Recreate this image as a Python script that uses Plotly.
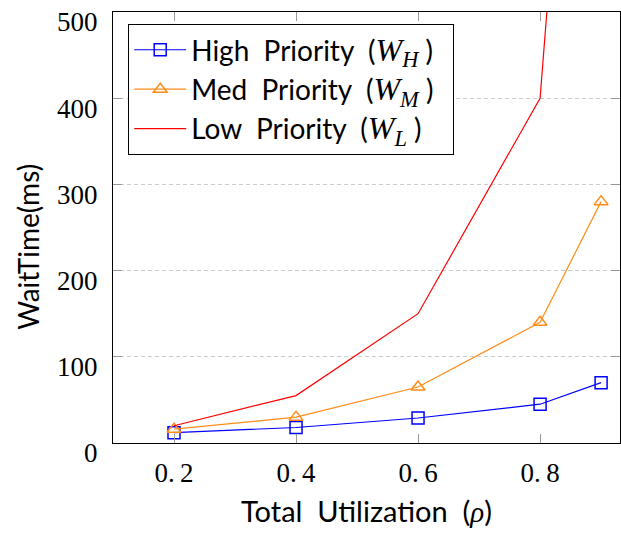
import plotly.graph_objects as go

x_vals = [0.2, 0.4, 0.6, 0.8, 0.9]
high = [12, 18, 29, 45, 70]
med = [16, 30, 65, 140, 280]
low = [20, 55, 150, 400, 1300]

x_ticks = [0.2, 0.4, 0.6, 0.8]
x_ticktext = ["0.\u20092", "0.\u20094", "0.\u20096", "0.\u20098"]
y_ticks = [0, 100, 200, 300, 400, 500]

nb = "\u00a0"
serif = "Liberation Serif"
sans = "Lato"


def math(s, size=None):
    st = f"font-family:{serif}" + (f";font-size:{size}px" if size else "")
    return f"<span style='{st}'><i>{s}</i></span>"


names = [f"High{nb} Priority{nb} ({math('W<sub>H</sub>', 32)} ){nb}{nb}",
         f"Med{nb} Priority{nb} ({math('W<sub>M</sub>', 32)} ){nb}{nb}",
         f"Low{nb} Priority{nb} ({math('W<sub>L</sub>', 32)} ){nb}{nb}"]
x_title = f"Total{nb} Utilization{nb} ({math('ρ')})"
y_title = "WaitTime(ms)"

fig = go.Figure()
fig.add_trace(go.Scatter(x=x_vals, y=high, name=names[0], mode="lines+markers",
                         line=dict(color="#0000ff", width=1.2),
                         marker=dict(symbol="square-open", size=12, color="#0000ff", line=dict(width=1.5))))
fig.add_trace(go.Scatter(x=x_vals, y=med, name=names[1], mode="lines+markers",
                         line=dict(color="#ff8c1a", width=1.2),
                         marker=dict(symbol="triangle-up-open", size=12, color="#ff8c1a", line=dict(width=1.5))))
fig.add_trace(go.Scatter(x=x_vals, y=low, name=names[2], mode="lines",
                         line=dict(color="#ff0000", width=1.2)))

fig.add_annotation(text=y_title, xref="paper", yref="paper", x=-0.168, y=0.455,
                   xanchor="center", yanchor="middle", textangle=-90, showarrow=False,
                   font=dict(family=sans, size=28, color="black"))

fig.update_layout(
    width=621, height=533,
    margin=dict(l=113, r=1, t=12, b=90),
    plot_bgcolor="white", paper_bgcolor="white",
    showlegend=True,
    legend=dict(x=0.03, y=0.972, xanchor="left", yanchor="top",
                bordercolor="black", borderwidth=1, bgcolor="white",
                font=dict(family=sans, size=28, color="black"),
                itemwidth=52, tracegroupgap=0),
    xaxis=dict(range=[0.1, 0.931], tickvals=x_ticks, ticktext=x_ticktext,
               automargin=False,
               showgrid=False, zeroline=False,
               showline=True, linecolor="black", linewidth=1, mirror="ticks",
               ticks="inside", ticklen=9, tickcolor="#999999",
               tickfont=dict(family=serif, size=27, color="black"),
               ticklabelstandoff=6,
               title=dict(text=x_title, font=dict(family=sans, size=29, color="black"),
                          standoff=14)),
    yaxis=dict(range=[0, 500], tickvals=y_ticks,
               automargin=False,
               showgrid=True, gridcolor="#cccccc", griddash="4px,3px", gridwidth=1,
               zeroline=False,
               showline=True, linecolor="black", linewidth=1, mirror="ticks",
               ticks="inside", ticklen=9, tickcolor="#999999",
               tickfont=dict(family=serif, size=27, color="black"),
               ticklabelstandoff=9, ticklabelshift=10, ticklabeloverflow="allow"),
)

fig.write_html("out.html", config=dict(displayModeBar=False),
               post_script="document.body.style.margin='0';document.body.style.overflow='hidden';")
